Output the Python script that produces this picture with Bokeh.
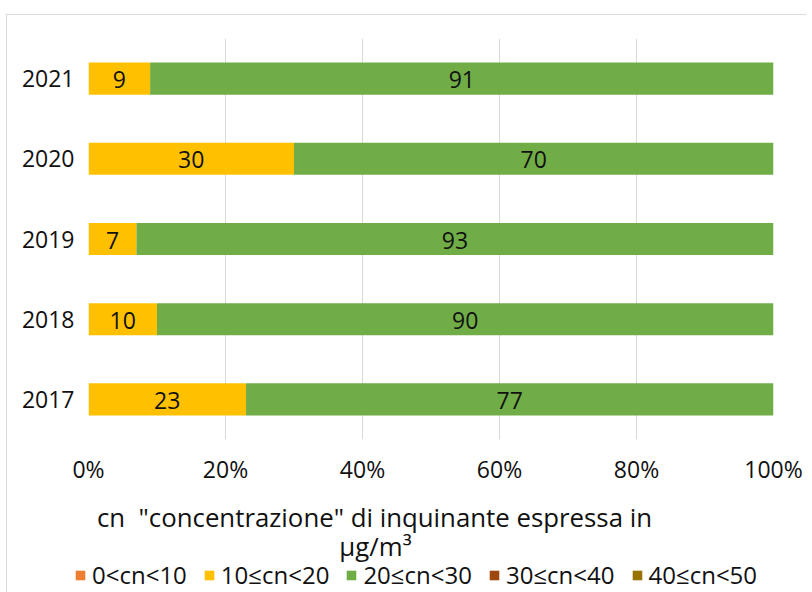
from bokeh.plotting import figure
from bokeh.layouts import column, row
from bokeh.models import (ColumnDataSource, Legend, LegendItem, Label, LabelSet,
                          FactorRange, Range1d, FixedTicker)
from bokeh.core.properties import value
from bokeh.embed import file_html
from bokeh.resources import INLINE

years = ["2017", "2018", "2019", "2020", "2021"]
s_0_10 = [0, 0, 0, 0, 0]
s_10_20 = [23, 10, 7, 30, 9]
s_20_30 = [77, 90, 93, 70, 91]
s_30_40 = [0, 0, 0, 0, 0]
s_40_50 = [0, 0, 0, 0, 0]
series_names = ["0<cn<10", "10≤cn<20", "20≤cn<30", "30≤cn<40", "40≤cn<50"]
colors = ["#ED7D31", "#FFC000", "#70AD47", "#9E480E", "#997300"]
x_ticks = [0, 20, 40, 60, 80, 100]
tick_labels = {0: "0%", 20: "20%", 40: "40%", 60: "60%", 80: "80%", 100: "100%"}
legend_title_1 = 'cn \u00a0"concentrazione" di inquinante espressa in'
legend_title_2 = "μg/m³"

FONT = "Open Sans"
FS = "23px"
TXT = "#111111"
BORDER = "1px solid #d9d9d9"

keys = ["a", "b", "c", "d", "e"]
data = {"year": years}
for k, s in zip(keys, [s_0_10, s_10_20, s_20_30, s_30_40, s_40_50]):
    data[k] = s
src = ColumnDataSource(data)

# ---- main chart ----
p = figure(width=800, height=481, y_range=FactorRange(*years, range_padding=0),
           x_range=Range1d(0, 100), toolbar_location=None, output_backend="svg",
           min_border_left=81, min_border_right=34, min_border_top=23, min_border_bottom=57)
p.outline_line_color = None
p.margin = (14, 0, 0, 6)
p.styles = {"border-left": BORDER, "border-top": BORDER}

rs = p.hbar_stack(keys, y="year", height=0.4, color=colors, source=src, line_color=None)

lab_src = ColumnDataSource(dict(
    x=[v / 2 for v in s_10_20] + [a + b / 2 for a, b in zip(s_10_20, s_20_30)],
    y=years + years,
    t=[str(v) for v in s_10_20] + [str(v) for v in s_20_30],
))
p.add_layout(LabelSet(x="x", y="y", text="t", source=lab_src, text_align="center",
                      text_baseline="middle", text_font=value(FONT), text_font_size=FS,
                      text_color=TXT, y_offset=-1))

p.xaxis.ticker = FixedTicker(ticks=x_ticks)
p.xaxis.major_label_overrides = tick_labels
p.xaxis.axis_line_color = None
p.xaxis.major_tick_line_color = None
p.xaxis.minor_tick_line_color = None
p.xaxis.major_label_standoff = 7
p.yaxis.axis_line_color = None
p.yaxis.major_tick_line_color = None
p.yaxis.minor_tick_line_color = None
p.yaxis.major_label_standoff = 8
for ax in (p.xaxis, p.yaxis):
    ax.major_label_text_font = FONT
    ax.major_label_text_font_size = FS
    ax.major_label_text_color = TXT

p.xgrid.ticker = FixedTicker(ticks=x_ticks)
p.xgrid.grid_line_color = "#d9d9d9"
p.ygrid.grid_line_color = None

# ---- legend panel ----
q = figure(width=800, height=97, x_range=Range1d(0, 800), y_range=Range1d(0, 97),
           toolbar_location=None, output_backend="svg",
           x_axis_location=None, y_axis_location=None,
           min_border_left=0, min_border_right=0, min_border_top=0, min_border_bottom=0)
q.margin = (0, 0, 0, 6)
q.styles = {"border-left": BORDER}
q.outline_line_color = None
q.grid.visible = False

rq = q.hbar_stack(keys, y=-500, height=1, color=colors, source=src, line_color=None)

q.add_layout(Label(x=367, y=76, text=legend_title_1, text_align="center", text_baseline="middle",
                   text_font=FONT, text_font_size="25.8px", text_color=TXT))
q.add_layout(Label(x=368, y=47, text=legend_title_2, text_align="center", text_baseline="middle",
                   text_font=FONT, text_font_size="25.8px", text_color=TXT))

legend = Legend(items=[LegendItem(label=n, renderers=[r]) for n, r in zip(series_names, rq)],
                orientation="horizontal", location=(67, 1), padding=0, margin=0,
                spacing=16, label_standoff=6, glyph_width=12, glyph_height=12,
                label_text_font=FONT, label_text_font_size="24px", label_text_color=TXT,
                background_fill_alpha=0, border_line_color=None, label_height=20)
q.add_layout(legend, "center")

layout = column(p, row(q), spacing=0)
open("out.html", "w").write(file_html(layout, INLINE))
